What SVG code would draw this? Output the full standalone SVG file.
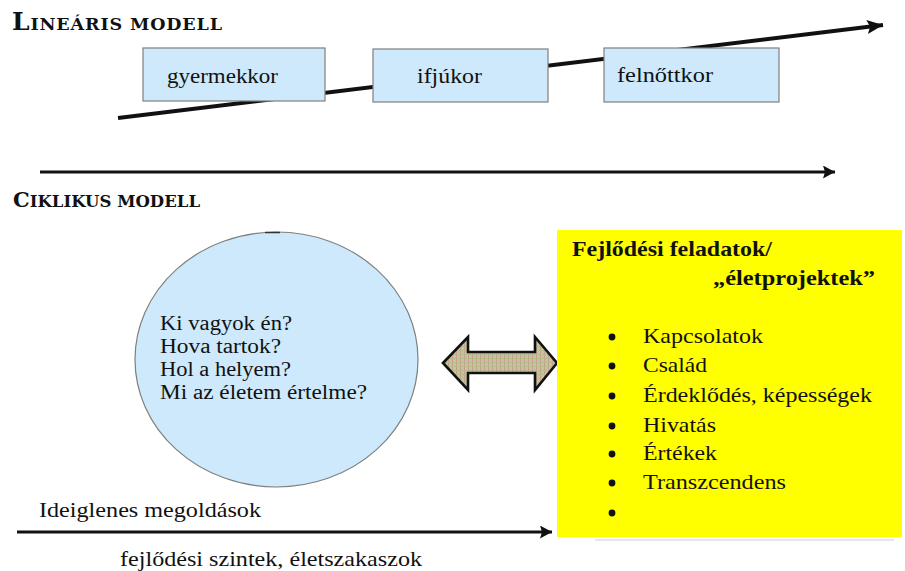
<svg xmlns="http://www.w3.org/2000/svg" width="905" height="571" viewBox="0 0 905 571">
  <style>
    .bg { fill: #ffffff; }
    .phase { fill: #cde9fb; stroke: #7f7f7f; stroke-width: 1.2; }
    .t { font-family: "Liberation Serif", "Times New Roman", serif; fill: #111111; }
    .head { font-family: "DejaVu Serif", "Liberation Serif", serif; font-weight: bold; fill: #111111; }
    .tb { font-family: "Liberation Serif", "DejaVu Serif", serif; font-weight: bold; fill: #111111; }
    .line { fill: none; stroke: #111111; }
  </style>
  <defs>
    <marker id="arrowBig" markerUnits="userSpaceOnUse" markerWidth="18" markerHeight="16" refX="16" refY="7" orient="auto">
      <path d="M0,0 L16,7 L0,14 L3,7 Z" fill="#111111"/>
    </marker>
    <marker id="arrowSmall" markerUnits="userSpaceOnUse" markerWidth="14" markerHeight="14" refX="12" refY="6.5" orient="auto">
      <path d="M0,0 L12,6.5 L0,13 L2,6.5 Z" fill="#111111"/>
    </marker>
    <pattern id="weave" patternUnits="userSpaceOnUse" width="4" height="4">
      <rect width="4" height="4" fill="#c7c49b"/>
      <rect x="0" y="0" width="1" height="4" fill="#c99b96"/>
      <rect x="0" y="2" width="4" height="1" fill="#b9b98c"/>
    </pattern>
  </defs>

  <rect class="bg" x="0" y="0" width="905" height="571"/>

  <!-- section headings -->
  <text id="title-linear" class="head" x="12" y="30" textLength="210" lengthAdjust="spacing"><tspan font-size="25">L</tspan><tspan font-size="17.5">INEÁRIS MODELL</tspan></text>
  <text id="title-cyclic" class="head" x="13" y="207" textLength="187" lengthAdjust="spacing"><tspan font-size="21">C</tspan><tspan font-size="16.5">IKLIKUS MODELL</tspan></text>

  <!-- connectors -->
  <g id="connectors">
    <line class="line" x1="118" y1="118" x2="883" y2="25" stroke-width="4" marker-end="url(#arrowBig)"/>
    <line class="line" x1="40" y1="172" x2="835" y2="172" stroke-width="3.2" marker-end="url(#arrowSmall)"/>
    <line class="line" x1="17" y1="532" x2="552" y2="532" stroke-width="3" marker-end="url(#arrowSmall)"/>
    <path id="double-arrow" d="M443,363 L468,337 L468,352 L535,352 L535,337 L557,363 L535,390 L535,373 L468,373 L468,390 Z" fill="url(#weave)" stroke="#111111" stroke-width="2.6" stroke-linejoin="miter"/>
  </g>

  <!-- linear model phases -->
  <g id="node-gyermekkor">
    <rect class="phase" x="143" y="48" width="182" height="53"/>
    <text class="t" x="167" y="83" font-size="21" textLength="111" lengthAdjust="spacingAndGlyphs">gyermekkor</text>
  </g>
  <g id="node-ifjukor">
    <rect class="phase" x="373" y="49" width="175" height="53"/>
    <text class="t" x="417" y="83" font-size="21" textLength="65" lengthAdjust="spacingAndGlyphs">ifjúkor</text>
  </g>
  <g id="node-felnottkor">
    <rect class="phase" x="604" y="48" width="175" height="54"/>
    <text class="t" x="617" y="82" font-size="21" textLength="96" lengthAdjust="spacingAndGlyphs">felnőttkor</text>
  </g>

  <!-- cyclic model: questions -->
  <g id="node-questions">
    <ellipse cx="276.5" cy="359.5" rx="141.5" ry="127.5" fill="#cde9fb" stroke="#7f7f7f" stroke-width="1.2"/>
    <line x1="265" y1="232.5" x2="280" y2="232.5" stroke="#333333" stroke-width="1.5"/>
    <text class="t" font-size="20" lengthAdjust="spacingAndGlyphs">
      <tspan x="160" y="330" textLength="132" lengthAdjust="spacingAndGlyphs">Ki vagyok én?</tspan>
      <tspan x="160" y="353" textLength="121" lengthAdjust="spacingAndGlyphs">Hova tartok?</tspan>
      <tspan x="160" y="376" textLength="131" lengthAdjust="spacingAndGlyphs">Hol a helyem?</tspan>
      <tspan x="160" y="399" textLength="207" lengthAdjust="spacingAndGlyphs">Mi az életem értelme?</tspan>
    </text>
  </g>

  <!-- cyclic model: developmental tasks -->
  <g id="node-tasks">
    <line x1="595" y1="540" x2="894" y2="540" stroke="#e6e6e6" stroke-width="2"/>
    <rect x="557" y="230" width="345" height="307" fill="#ffff00"/>
    <text class="tb" x="572" y="256" font-size="22" textLength="200" lengthAdjust="spacingAndGlyphs">Fejlődési feladatok/</text>
    <text class="tb" x="713" y="285" font-size="22" textLength="162" lengthAdjust="spacingAndGlyphs">„életprojektek”</text>
    <g fill="#111111">
      <circle cx="612" cy="337" r="3.4"/>
      <circle cx="612" cy="366" r="3.4"/>
      <circle cx="612" cy="396" r="3.4"/>
      <circle cx="612" cy="426" r="3.4"/>
      <circle cx="612" cy="454" r="3.4"/>
      <circle cx="612" cy="483" r="3.4"/>
      <circle cx="612" cy="513" r="3.4"/>
    </g>
    <text class="t" font-size="21" lengthAdjust="spacingAndGlyphs">
      <tspan x="643" y="343" textLength="120" lengthAdjust="spacingAndGlyphs">Kapcsolatok</tspan>
      <tspan x="643" y="372" textLength="64" lengthAdjust="spacingAndGlyphs">Család</tspan>
      <tspan x="643" y="402" textLength="229" lengthAdjust="spacingAndGlyphs">Érdeklődés, képességek</tspan>
      <tspan x="643" y="432" textLength="73" lengthAdjust="spacingAndGlyphs">Hivatás</tspan>
      <tspan x="643" y="460" textLength="74" lengthAdjust="spacingAndGlyphs">Értékek</tspan>
      <tspan x="643" y="489" textLength="143" lengthAdjust="spacingAndGlyphs">Transzcendens</tspan>
    </text>
  </g>

  <!-- bottom axis labels -->
  <text id="label-temporary" class="t" x="39" y="517" font-size="21" textLength="222" lengthAdjust="spacingAndGlyphs">Ideiglenes megoldások</text>
  <text id="label-levels" class="t" x="120" y="566" font-size="21" textLength="302" lengthAdjust="spacingAndGlyphs">fejlődési szintek, életszakaszok</text>
</svg>
